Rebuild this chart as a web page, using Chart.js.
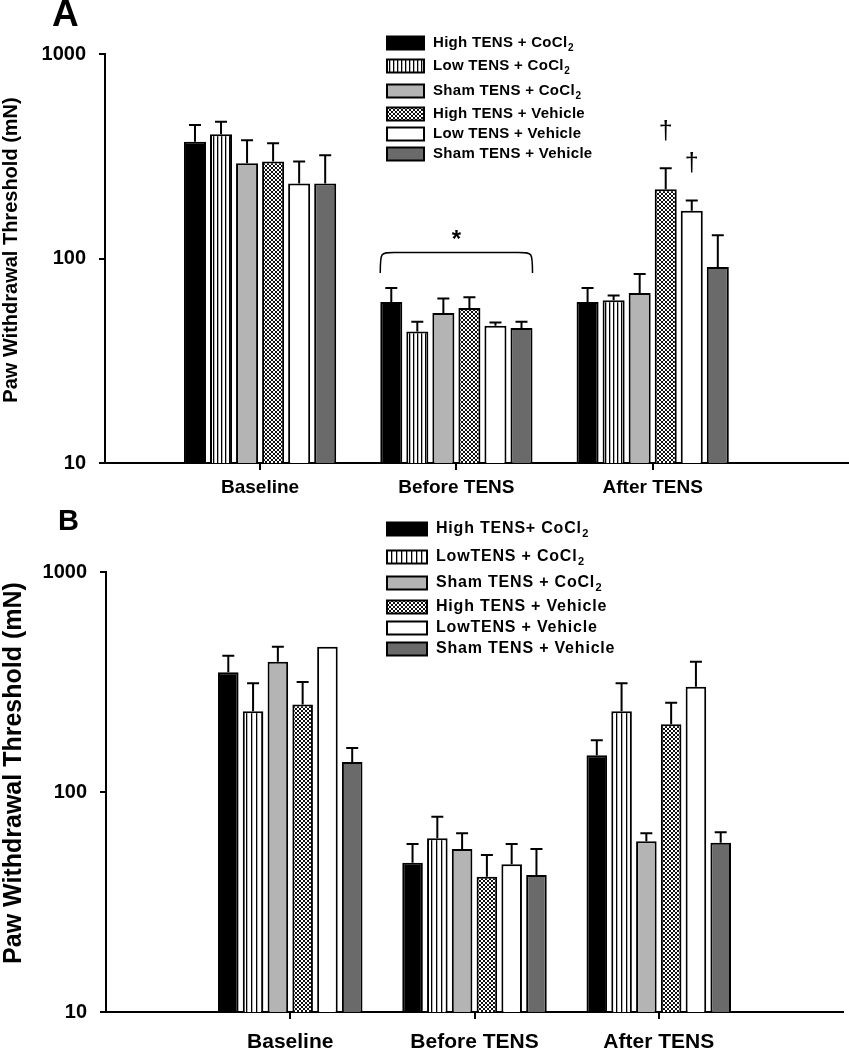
<!DOCTYPE html>
<html><head><meta charset="utf-8">
<script src="https://cdn.jsdelivr.net/npm/chart.js@4.4.1/dist/chart.umd.min.js"></script>
<style>
html,body{margin:0;padding:0;background:#fff;}
#wrap{position:relative;width:849px;height:1050px;overflow:hidden;}
canvas{display:block;}
</style></head><body>
<div id="wrap">
<div style="position:absolute;left:0;top:0;width:849px;height:505px"><canvas id="ca" width="849" height="505"></canvas></div>
<div style="position:absolute;left:0;top:505px;width:849px;height:545px"><canvas id="cb" width="849" height="545"></canvas></div>
</div>
<script>
// ---------- data ----------
const categories = ['Baseline', 'Before TENS', 'After TENS'];
const yTicks = [10, 100, 1000];
const yTitle = 'Paw Withdrawal Threshold (mN)';

const seriesLabelsA = ['High TENS + CoCl₂', 'Low TENS + CoCl₂', 'Sham TENS + CoCl₂',
                       'High TENS + Vehicle', 'Low TENS + Vehicle', 'Sham TENS + Vehicle'];
const seriesLabelsB = ['High TENS+ CoCl₂', 'LowTENS + CoCl₂', 'Sham TENS + CoCl₂',
                       'High TENS + Vehicle', 'LowTENS + Vehicle', 'Sham TENS + Vehicle'];

// Panel A: means (mN)
const aHighCo  = [372, 61.3, 61.3];
const aLowCo   = [405, 44.0, 62.5];
const aShamCo  = [292, 54.2, 67.9];
const aHighVeh = [298, 57.3, 218];
const aLowVeh  = [233, 46.9, 171];
const aShamVeh = [233, 45.7, 91];
// Panel A: upper error (SEM)
const aHighCoErr  = [78, 10.5, 10.5];
const aLowCoErr   = [61, 5.0, 3.5];
const aShamCoErr  = [87, 9.5, 16.2];
const aHighVehErr = [68, 7.3, 58];
const aLowVehErr  = [65, 1.8, 21];
const aShamVehErr = [87, 3.3, 39];

// Panel B: means (mN)
const bHighCo  = [350, 47.7, 147];
const bLowCo   = [233, 61.6, 233];
const bShamCo  = [391, 55.1, 59.7];
const bHighVeh = [250, 41.2, 203];
const bLowVeh  = [457, 46.9, 301];
const bShamVeh = [137, 42.0, 58.8];
// Panel B: upper error (SEM)
const bHighCoErr  = [66, 10.3, 25];
const bLowCoErr   = [79, 15.6, 79];
const bShamCoErr  = [66, 9.8, 5.2];
const bHighVehErr = [66.5, 10.5, 51.6];
const bLowVehErr  = [0, 11.1, 90];
const bShamVehErr = [21.6, 13.1, 6.8];

// significance marks (panel A)
const aBracketCategory = 1;
const aBracketMark = '*';
const aDaggerCategory = 2;
const aDaggerSeries = [3, 4];
const daggerMark = '†';

// ---------- styles ----------
const FONT = "'Liberation Sans', Arial, Helvetica, sans-serif";

function makeStripes(period) {
  const c = document.createElement('canvas');
  c.width = period; c.height = 4;
  const g = c.getContext('2d');
  g.fillStyle = '#fff'; g.fillRect(0, 0, period, 4);
  g.fillStyle = '#000'; g.fillRect(1, 0, 1.3, 4);
  return g.createPattern(c, 'repeat');
}
function makeHatch() {
  const c = document.createElement('canvas');
  c.width = 4; c.height = 4;
  const g = c.getContext('2d');
  g.fillStyle = '#fff'; g.fillRect(0, 0, 4, 4);
  g.fillStyle = '#111';
  [[0,0],[1,1],[2,2],[3,3],[3,0],[2,1],[1,2],[0,3]].forEach(p => g.fillRect(p[0], p[1], 1, 1));
  return g.createPattern(c, 'repeat');
}
function fills(stripePeriod) {
  return ['#000000', makeStripes(stripePeriod), '#b4b4b4', makeHatch(), '#ffffff', '#6a6a6a'];
}

function drawLabel(ctx, text, x, y, font, subFont) {
  const parts = text.split('₂');
  ctx.font = font;
  ctx.textAlign = 'left';
  ctx.textBaseline = 'middle';
  ctx.fillText(parts[0], x, y);
  if (parts.length > 1) {
    const w = ctx.measureText(parts[0]).width;
    ctx.font = subFont;
    ctx.fillText('2', x + w + 0.5, y + 5);
  }
}

const decorPlugin = {
  id: 'decor',
  afterDatasetsDraw(chart, args, o) {
    const ctx = chart.ctx;
    const y = chart.scales.y;
    ctx.save();
    ctx.strokeStyle = '#000';
    ctx.fillStyle = '#000';
    // error bars (upper only)
    chart.data.datasets.forEach((ds, i) => {
      const meta = chart.getDatasetMeta(i);
      meta.data.forEach((bar, j) => {
        const err = ds.errors[j];
        if (!err) return;
        const top = y.getPixelForValue(ds.data[j].y + err);
        ctx.lineWidth = 2;
        ctx.beginPath();
        ctx.moveTo(bar.x, bar.y);
        ctx.lineTo(bar.x, top);
        ctx.moveTo(bar.x - o.cap / 2, top);
        ctx.lineTo(bar.x + o.cap / 2, top);
        ctx.stroke();
      });
    });
    // bracket + asterisk
    if (o.bracket) {
      const n = chart.data.datasets.length;
      const b0 = chart.getDatasetMeta(0).data[o.bracket.category];
      const b1 = chart.getDatasetMeta(n - 1).data[o.bracket.category];
      const x0 = b0.x - b0.width / 2, x1 = b1.x + b1.width / 2;
      const yt = y.getPixelForValue(o.bracket.top), ye = y.getPixelForValue(o.bracket.end);
      ctx.lineWidth = 1.5;
      ctx.beginPath();
      ctx.moveTo(x0, ye);
      ctx.bezierCurveTo(x0, yt, x0, yt, x0 + 14, yt);
      ctx.lineTo(x1 - 14, yt);
      ctx.bezierCurveTo(x1, yt, x1, yt, x1, ye);
      ctx.stroke();
      ctx.font = 'bold 24px ' + FONT;
      ctx.textAlign = 'center';
      ctx.textBaseline = 'middle';
      ctx.fillText(o.bracket.mark, (x0 + x1) / 2, y.getPixelForValue(o.bracket.markAt) + 6);
    }
    // daggers
    if (o.daggers) {
      ctx.font = '25px ' + FONT;
      ctx.textAlign = 'center';
      ctx.textBaseline = 'middle';
      o.daggers.series.forEach(s => {
        const ds = chart.data.datasets[s];
        const c = o.daggers.category;
        const bar = chart.getDatasetMeta(s).data[c];
        const top = y.getPixelForValue(ds.data[c].y + ds.errors[c]);
        ctx.fillText(o.daggers.mark, bar.x, top - o.daggers.gap);
      });
    }
    ctx.restore();
  },
  afterDraw(chart, args, o) {
    const ctx = chart.ctx;
    ctx.save();
    ctx.fillStyle = '#000';
    // panel letter
    ctx.font = o.letterFont;
    ctx.textAlign = 'left';
    ctx.textBaseline = 'alphabetic';
    ctx.fillText(o.letter, o.letterX, o.letterY);
    // y title
    ctx.save();
    ctx.translate(o.titleX, o.titleY);
    ctx.rotate(-Math.PI / 2);
    ctx.font = o.titleFont;
    ctx.textAlign = 'center';
    ctx.textBaseline = 'middle';
    ctx.fillText(yTitle, 0, 0);
    ctx.restore();
    // legend
    const L = o.legend;
    ctx.letterSpacing = L.spacing;
    chart.data.datasets.forEach((ds, i) => {
      const cy = L.rows[i];
      ctx.fillStyle = ds.backgroundColor;
      ctx.fillRect(L.x, cy - L.h / 2, L.w, L.h);
      ctx.lineWidth = 2;
      ctx.strokeStyle = '#000';
      ctx.strokeRect(L.x, cy - L.h / 2, L.w, L.h);
      ctx.fillStyle = '#000';
      drawLabel(ctx, ds.label, L.textX, cy, L.font, L.subFont);
    });
    ctx.letterSpacing = '0px';
    ctx.restore();
  }
};

function buildChart(canvasId, p) {
  const f = fills(p.stripePeriod);
  const datasets = p.means.map((m, i) => ({
    label: p.labels[i],
    data: categories.map((c, j) => ({ x: j, y: m[j] })),
    errors: p.errs[i],
    backgroundColor: f[i],
    borderColor: '#000',
    borderWidth: 2,
    borderSkipped: 'start',
    categoryPercentage: p.catPct,
    barPercentage: p.barPct
  }));
  return new Chart(document.getElementById(canvasId), {
    type: 'bar',
    data: { datasets },
    plugins: [decorPlugin],
    options: {
      responsive: false,
      animation: false,
      devicePixelRatio: 1,
      layout: { padding: { top: p.padTop, right: p.padRight, left: 0, bottom: 0 } },
      plugins: {
        legend: { display: false },
        tooltip: { enabled: false },
        decor: p.decor
      },
      scales: {
        x: {
          type: 'linear',
          min: p.xMin, max: p.xMax,
          offset: false,
          afterFit: s => { s.height = p.xAxisH; },
          afterBuildTicks: s => { s.ticks = categories.map((c, j) => ({ value: j })); },
          ticks: {
            autoSkip: false, maxRotation: 0, padding: p.xPad,
            color: '#000',
            font: { family: FONT, size: p.xFont, weight: 'bold', lineHeight: 1.0 },
            callback: v => categories[v]
          },
          grid: { display: true, drawOnChartArea: false, drawTicks: true, tickLength: 7, color: '#000', lineWidth: 2, offset: false },
          border: { display: true, color: '#000', width: 2 }
        },
        y: {
          type: 'logarithmic',
          min: 10, max: 1000,
          afterFit: s => { s.width = p.yAxisW; },
          afterBuildTicks: s => { s.ticks = yTicks.map(v => ({ value: v })); },
          ticks: {
            padding: 13, color: '#000',
            font: { family: FONT, size: 20, weight: 'bold' },
            callback: v => String(v)
          },
          grid: { display: true, drawOnChartArea: false, drawTicks: true, tickLength: 6, color: '#000', lineWidth: 2 },
          border: { display: true, color: '#000', width: 2 }
        }
      }
    }
  });
}

buildChart('ca', {
  labels: seriesLabelsA,
  means: [aHighCo, aLowCo, aShamCo, aHighVeh, aLowVeh, aShamVeh],
  errs: [aHighCoErr, aLowCoErr, aShamCoErr, aHighVehErr, aLowVehErr, aShamVehErr],
  stripePeriod: 4,
  catPct: 0.796, barPct: 0.846,
  xMin: -0.79, xMax: 3.0,
  padTop: 54, padRight: 0, yAxisW: 105, xAxisH: 42,
  xFont: 19, xPad: 8,
  decor: {
    cap: 12,
    bracket: { category: aBracketCategory, top: 107, end: 85, markAt: 131, mark: aBracketMark },
    daggers: { category: aDaggerCategory, series: aDaggerSeries, mark: daggerMark, gap: 36 },
    letter: 'A', letterFont: 'bold 37px ' + FONT, letterX: 52, letterY: 26,
    titleX: 11, titleY: 250, titleFont: 'bold 20px ' + FONT,
    legend: { x: 387, w: 37, h: 13, textX: 433, rows: [43, 66, 91, 114, 134, 154],
              font: 'bold 15px ' + FONT, subFont: 'bold 10px ' + FONT, spacing: '0.3px' }
  }
});

buildChart('cb', {
  labels: seriesLabelsB,
  means: [bHighCo, bLowCo, bShamCo, bHighVeh, bLowVeh, bShamVeh],
  errs: [bHighCoErr, bLowCoErr, bShamCoErr, bHighVehErr, bLowVehErr, bShamVehErr],
  stripePeriod: 5,
  catPct: 0.807, barPct: 0.83,
  xMin: -1.0, xMax: 3.0,
  padTop: 67, padRight: 6, yAxisW: 106, xAxisH: 38,
  xFont: 21, xPad: 13,
  decor: {
    cap: 12,
    letter: 'B', letterFont: 'bold 29px ' + FONT, letterX: 58, letterY: 25,
    titleX: 14, titleY: 268, titleFont: 'bold 25px ' + FONT,
    legend: { x: 387, w: 40, h: 13, textX: 436, rows: [24, 52, 78, 102, 123, 144],
              font: 'bold 16px ' + FONT, subFont: 'bold 11px ' + FONT, spacing: '0.8px' }
  }
});
</script>
</body></html>
